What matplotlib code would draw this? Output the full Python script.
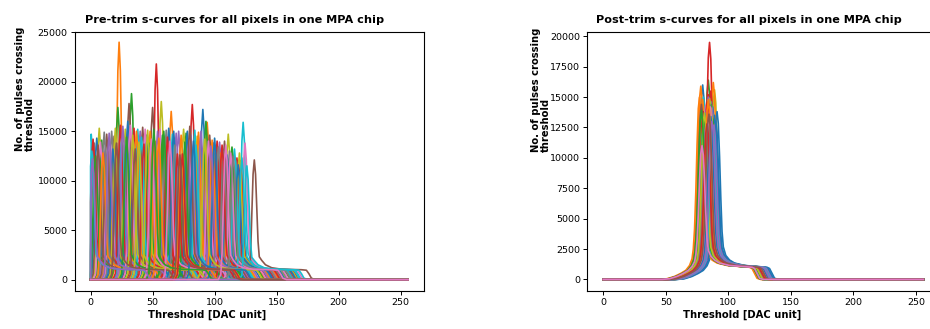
import numpy as np
import matplotlib
matplotlib.use('Agg')
import matplotlib.pyplot as plt

# threshold scan range (DAC units)
DAC_MIN, DAC_MAX = 0, 256

# ---- pre-trim pixels, one row per cycle of the default colour cycle ----
# (blue, orange, green, red, purple, brown, pink, gray, olive, cyan)
PRE_CENTERS = [
    45, 23, 33, 53, 12, 50, 88, 3, 57, 123,
    90.5, 65, 22, 82, 27, 31, 124.5, 60, 7, 0.5,
    5, 94, 93, 118, 40, 132, 16, 99, 111, 38,
    101, 48, 9, 121, 69, 19, 56, 112, 28, 84,
    63, 14, 77, 35, 104, 42, 8, 117, 86, 25,
    30, 105, 58, 2, 71, 96, 44, 17, 120, 66,
    110, 37, 4, 102, 54, 13, 79, 61, 20, 116,
    18, 87, 47, 24, 89, 108, 32, 11, 75, 41,
    78, 52, 114, 62, 26, 6, 95, 107, 34, 85,
    119, 10, 59, 43, 81, 36, 113, 103, 46, 1,
    67, 98, 29, 106, 15, 80, 49, 68, 39, 122,
    100, 55, 76, 70, 97, 21, 64, 115, 92, 126,
    83, 73, 51, 74, 1.5, 72, 109,
]
PRE_HEIGHTS = [
    14600, 24000, 18800, 21800, 13500, 17400, 13800, 13800, 18000, 15900,
    17200, 17000, 17400, 17700, 13600, 17800, 13800, 13800, 15300, 14700,
    14300, 15900, 16000, 12300, 15000, 12100, 13800, 13800, 14700, 15200,
    13200, 15000, 14100, 12000, 14800, 14500, 15200, 13000, 15200, 15100,
    15300, 12900, 14800, 15300, 13900, 15400, 13900, 12000, 14500, 14200,
    16000, 12800, 14600, 14200, 15000, 14600, 15200, 15000, 12800, 14700,
    12600, 15000, 12500, 14000, 15000, 14700, 14200, 15100, 15300, 13200,
    13200, 14900, 13800, 15600, 15000, 14000, 15600, 14900, 15200, 14400,
    15000, 14000, 13400, 14400, 15500, 13600, 14000, 13000, 14600, 13600,
    11600, 12800, 15000, 13700, 14600, 13200, 12800, 13400, 15100, 13000,
    15000, 14100, 14400, 13600, 14800, 15500, 14200, 13600, 13900, 12300,
    14300, 14300, 13900, 12700, 13500, 13800, 14000, 12500, 14200, 11500,
    14000, 14600, 15200, 12700, 12200, 12600, 13600,
]

# ---- post-trim pixels ----
POST_CENTERS = [
    79.5, 78, 84, 85, 82, 83, 81, 86, 89, 80,
    91, 88, 83.5, 86, 80.5, 84.5, 82.5, 87, 85.5, 81.5,
    87.5, 77, 81, 84, 85, 79, 83, 86.5, 88.5, 82,
    90, 79.5, 86, 82.5, 87, 84, 80, 81, 85, 83,
    84.5, 88, 82, 80, 86, 78.5, 85.5, 83.5, 87, 81,
    89, 83, 85, 81.5, 84, 86.5, 82, 88, 80.5, 84,
    85, 81, 87.5, 83, 82.5, 85, 83.5, 84.5, 86, 80,
    82, 86, 80.5, 84, 88.5, 83, 85.5, 82, 81, 87.5,
    86, 84, 78.5, 83, 87, 84.5, 79,
]
POST_HEIGHTS = [
    16000, 15900, 16400, 19500, 13500, 14800, 12500, 14000, 15600, 15000,
    13800, 16200, 14500, 15500, 13600, 14200, 13000, 13900, 14600, 14000,
    14200, 15000, 13300, 15200, 13900, 14400, 12800, 14600, 13500, 13800,
    13000, 14800, 14400, 13700, 14100, 13500, 12600, 13600, 14900, 13400,
    14000, 13300, 12900, 13800, 13600, 14400, 13200, 14700, 12800, 13100,
    13500, 14200, 13000, 13600, 15000, 12700, 14300, 12500, 13300, 13900,
    14400, 12800, 13200, 14600, 13900, 12600, 13500, 13000, 14100, 12400,
    13600, 12900, 13100, 14500, 12700, 13300, 14200, 12900, 13700, 12600,
    13400, 14800, 13900, 12800, 13000, 13600, 11000,
]

# pulse-count profile around each pixel's threshold:
# counts = height * REL + ABS, at threshold = center + OFFSET
PRE_OFFSETS = [-6, -4, -3, -2, -1, 0, 1, 2, 3, 4, 6, 9, 14, 22, 38, 42, 44, 46, 49]
PRE_REL = [0, 0.04, 0.2, 0.55, 0.88, 1, 0.88, 0.58, 0.27, 0.1, 0.02,
           0, 0, 0, 0, 0, 0, 0, 0]
PRE_ABS = [0, 0, 0, 0, 0, 0, 0, 200, 600, 1100, 1700, 1500, 1200, 1050,
           1000, 950, 600, 150, 0]

POST_OFFSETS = [-32, -26, -20, -15, -11, -8, -6, -5, -4, -3, -2, -1, 0, 1, 2,
                3, 4, 5, 7, 10, 14, 22, 34, 40, 42, 44, 46, 49]
POST_REL = [0, 0, 0, 0, 0, 0.02, 0.06, 0.12, 0.24, 0.45, 0.72, 0.93, 1, 0.93,
            0.72, 0.45, 0.22, 0.1, 0.02, 0, 0, 0, 0, 0, 0, 0, 0, 0]
POST_ABS = [0, 60, 250, 500, 750, 850, 800, 700, 550, 400, 250, 100, 0, 0, 200,
            500, 900, 1300, 1700, 1600, 1350, 1150, 1050, 1000, 900, 500, 100, 0]

FS_TICK = 6.8
FS_LABEL = 7.2
FS_TITLE = 8.1


def pixel_curve(center, height, offsets, rel, absval):
    x = center + np.array(offsets, dtype=float)
    y = height * np.array(rel) + np.array(absval, dtype=float)
    keep = x >= DAC_MIN
    x = np.concatenate([[DAC_MIN], x[keep], [DAC_MAX]])
    y = np.concatenate([[0], y[keep], [0]])
    return x, y


def draw_panel(ax, centers, heights, offsets, rel, absval, title, xlabel_x):
    for c, h in zip(centers, heights):
        x, y = pixel_curve(c, h, offsets, rel, absval)
        ax.plot(x, y, lw=1.2)
    ax.set_xlim(-12.8, 268.8)
    ax.set_xticks([0, 50, 100, 150, 200, 250])
    ax.tick_params(labelsize=FS_TICK, length=3, width=0.7, pad=2)
    ax.set_title(title, fontsize=FS_TITLE, fontweight='bold', x=0.459, pad=6)
    ax.set_xlabel('Threshold [DAC unit]', fontsize=FS_LABEL, fontweight='bold',
                  x=xlabel_x, labelpad=2)
    ax.set_ylabel('No. of pulses crossing\nthreshold', fontsize=FS_LABEL,
                  fontweight='bold', ha='left', linespacing=0.95)
    for s in ax.spines.values():
        s.set_linewidth(0.8)


fig = plt.figure(figsize=(9.3, 3.29), dpi=100)
ax1 = fig.add_axes([74.7 / 930, 38 / 329, 349.3 / 930, 259.3 / 329])
ax2 = fig.add_axes([587.3 / 930, 38 / 329, 352 / 930, 259.3 / 329])

draw_panel(ax1, PRE_CENTERS, PRE_HEIGHTS, PRE_OFFSETS, PRE_REL, PRE_ABS,
           'Pre-trim s-curves for all pixels in one MPA chip', 0.379)
ax1.set_ylim(-1150, 25060)
ax1.set_yticks(range(0, 25001, 5000))
ax1.yaxis.set_label_coords(-0.115, 0.538)

draw_panel(ax2, POST_CENTERS, POST_HEIGHTS, POST_OFFSETS, POST_REL, POST_ABS,
           'Post-trim s-curves for all pixels in one MPA chip', 0.439)
ax2.set_ylim(-950, 20380)
ax2.set_yticks(range(0, 20001, 2500))
ax2.yaxis.set_label_coords(-0.103, 0.537)

fig.savefig('out.png', dpi=100)
